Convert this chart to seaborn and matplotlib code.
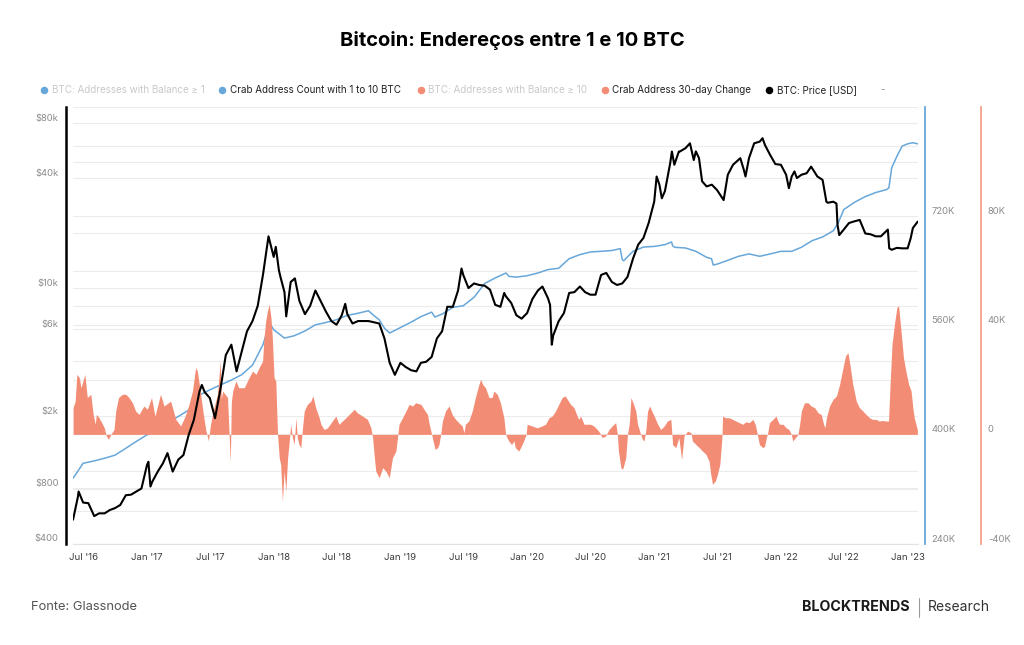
"""Bitcoin crab addresses (1-10 BTC) vs price, Glassnode-style chart."""
import pandas as pd
import seaborn as sns
import matplotlib.pyplot as plt
import matplotlib.dates as mdates
from matplotlib.ticker import NullFormatter, NullLocator, FixedLocator
from matplotlib.lines import Line2D

# ---------------- data ----------------
price_dates = [
    "2016-06-02", "2016-06-16", "2016-06-18", "2016-07-01", "2016-07-16", "2016-08-02",
    "2016-08-16", "2016-09-01", "2016-09-16", "2016-10-01", "2016-10-16", "2016-11-01",
    "2016-11-16", "2016-12-01", "2016-12-16", "2017-01-01", "2017-01-05", "2017-01-11",
    "2017-01-16", "2017-02-01", "2017-02-16", "2017-03-01", "2017-03-16", "2017-04-01",
    "2017-04-16", "2017-05-01", "2017-05-16", "2017-06-01", "2017-06-08", "2017-06-16",
    "2017-07-01", "2017-07-16", "2017-08-01", "2017-08-16", "2017-09-01", "2017-09-16",
    "2017-10-01", "2017-10-16", "2017-11-01", "2017-11-16", "2017-12-01", "2017-12-17",
    "2018-01-01", "2018-01-07", "2018-01-16", "2018-01-21", "2018-02-01", "2018-02-06",
    "2018-02-19", "2018-03-03", "2018-03-16", "2018-04-01", "2018-04-16", "2018-05-01",
    "2018-05-16", "2018-06-01", "2018-06-16", "2018-07-01", "2018-07-16", "2018-07-26",
    "2018-08-01", "2018-08-16", "2018-09-01", "2018-09-16", "2018-10-01", "2018-10-16",
    "2018-11-01", "2018-11-16", "2018-12-01", "2018-12-16", "2019-01-01", "2019-01-16",
    "2019-02-01", "2019-02-16", "2019-03-01", "2019-03-16", "2019-04-01", "2019-04-16",
    "2019-05-01", "2019-05-16", "2019-06-01", "2019-06-16", "2019-06-26", "2019-07-01",
    "2019-07-16", "2019-08-01", "2019-08-16", "2019-09-01", "2019-09-16", "2019-10-01",
    "2019-10-16", "2019-10-27", "2019-11-01", "2019-11-16", "2019-12-01", "2019-12-16",
    "2020-01-01", "2020-01-16", "2020-02-01", "2020-02-14", "2020-03-01", "2020-03-07",
    "2020-03-12", "2020-03-16", "2020-04-01", "2020-04-16", "2020-05-01", "2020-05-16",
    "2020-06-01", "2020-06-16", "2020-07-01", "2020-07-16", "2020-08-01", "2020-08-16",
    "2020-09-01", "2020-09-16", "2020-10-01", "2020-10-16", "2020-11-01", "2020-11-16",
    "2020-12-01", "2020-12-16", "2021-01-01", "2021-01-08", "2021-01-16", "2021-01-23",
    "2021-02-01", "2021-02-16", "2021-02-21", "2021-02-28", "2021-03-13", "2021-03-16",
    "2021-04-01", "2021-04-14", "2021-04-25", "2021-05-01", "2021-05-10", "2021-05-19",
    "2021-06-01", "2021-06-16", "2021-07-01", "2021-07-20", "2021-08-01", "2021-08-16",
    "2021-09-06", "2021-09-16", "2021-09-21", "2021-10-01", "2021-10-16", "2021-11-01",
    "2021-11-09", "2021-11-16", "2021-12-01", "2021-12-16", "2022-01-01", "2022-01-16",
    "2022-01-24", "2022-02-01", "2022-02-09", "2022-02-16", "2022-03-01", "2022-03-16",
    "2022-03-29", "2022-04-16", "2022-05-01", "2022-05-12", "2022-05-16", "2022-06-01",
    "2022-06-10", "2022-06-13", "2022-06-18", "2022-07-01", "2022-07-16", "2022-08-01",
    "2022-08-16", "2022-09-01", "2022-09-16", "2022-10-01", "2022-10-16", "2022-11-05",
    "2022-11-09", "2022-11-16", "2022-12-01", "2022-12-16", "2023-01-01", "2023-01-10",
    "2023-01-16", "2023-01-30",
]
price_usd = [
    540, 720, 770, 670, 665, 565,
    585, 585, 610, 625, 650, 735,
    740, 770, 800, 1075, 1120, 820,
    870, 990, 1100, 1250, 990, 1150,
    1220, 1570, 1900, 2710, 2950, 2700,
    2500, 1940, 2830, 4300, 4900, 3500,
    4500, 5800, 6600, 8000, 11800, 19200,
    14800, 16800, 12500, 11400, 9500, 7000,
    10800, 11300, 8500, 7200, 8000, 9700,
    8500, 7400, 6600, 6300, 7100, 8200,
    7200, 6400, 6600, 6600, 6600, 6500,
    6400, 5300, 3900, 3350, 3900, 3700,
    3550, 3500, 3900, 3950, 4200, 5300,
    5800, 7900, 7900, 9700, 12800, 11800,
    10000, 10600, 10400, 10300, 9800, 8100,
    7900, 9400, 9000, 8300, 7100, 6800,
    7300, 8700, 9700, 10200, 8800, 8100,
    4900, 5500, 6600, 7300, 9400, 9500,
    10200, 9500, 9200, 9200, 11800, 12100,
    10800, 10400, 10600, 11500, 14500, 17300,
    18800, 22700, 29700, 40800, 36800, 31000,
    34000, 48200, 55900, 47300, 55900, 55900,
    58300, 62000, 50200, 56000, 51400, 38400,
    36000, 36800, 34400, 30300, 41700, 47300,
    51400, 44500, 40800, 51400, 62000, 63300,
    66100, 60700, 53500, 47700, 47300, 41700,
    35200, 40800, 43500, 40000, 41700, 42500,
    46200, 40800, 39100, 29700, 29300, 29700,
    29000, 22200, 19500, 20900, 22700, 23200,
    23600, 19900, 19700, 19200, 19200, 20900,
    16500, 16200, 16600, 16500, 16500, 18800,
    21300, 23100,
]

crab_dates = [
    "2016-06-02", "2016-07-01", "2016-08-01", "2016-09-01", "2016-10-01", "2016-11-01",
    "2016-12-01", "2017-01-01", "2017-02-01", "2017-03-01", "2017-04-01", "2017-05-01",
    "2017-06-01", "2017-07-01", "2017-08-01", "2017-09-01", "2017-10-01", "2017-11-01",
    "2017-12-01", "2017-12-16", "2017-12-20", "2018-01-01", "2018-02-01", "2018-03-01",
    "2018-04-01", "2018-05-01", "2018-06-01", "2018-07-01", "2018-08-01", "2018-09-01",
    "2018-10-01", "2018-10-16", "2018-11-01", "2018-11-16", "2018-12-01", "2019-01-01",
    "2019-02-01", "2019-03-01", "2019-04-01", "2019-04-10", "2019-05-01", "2019-06-01",
    "2019-07-01", "2019-08-01", "2019-09-01", "2019-10-01", "2019-11-01", "2019-11-10",
    "2019-12-01", "2020-01-01", "2020-02-01", "2020-03-01", "2020-04-01", "2020-05-01",
    "2020-06-01", "2020-07-01", "2020-08-01", "2020-09-01", "2020-09-25", "2020-10-01",
    "2020-10-05", "2020-11-01", "2020-12-01", "2021-01-01", "2021-02-01", "2021-02-20",
    "2021-02-23", "2021-03-01", "2021-04-01", "2021-05-01", "2021-06-01", "2021-06-15",
    "2021-06-20", "2021-07-01", "2021-08-01", "2021-09-01", "2021-10-01", "2021-11-01",
    "2021-12-01", "2022-01-01", "2022-02-01", "2022-03-01", "2022-04-01", "2022-05-01",
    "2022-06-01", "2022-06-15", "2022-07-01", "2022-08-01", "2022-09-01", "2022-10-01",
    "2022-11-01", "2022-11-08", "2022-11-16", "2022-12-01", "2022-12-16", "2023-01-01",
    "2023-01-16", "2023-01-30",
]
crab_count = [
    335.6, 357.6, 361.0, 365.0, 369.6, 379.6,
    389.6, 399.3, 406.6, 416.6, 426.2, 435.6,
    457.6, 465.3, 472.6, 479.6, 487.6, 501.6,
    531.4, 555.6, 563.2, 553.4, 541.2, 544.6,
    551.6, 560.6, 564.1, 568.1, 574.4, 577.6,
    581.3, 574.4, 568.1, 555.6, 548.6, 556.6,
    564.6, 572.6, 579.3, 572.0, 576.4, 586.2,
    588.6, 600.9, 621.4, 629.3, 636.6, 631.6,
    630.6, 632.6, 636.6, 641.6, 643.6, 657.6,
    663.6, 667.4, 668.4, 669.6, 672.3, 656.2,
    654.6, 668.4, 674.6, 675.6, 678.2, 682.1,
    676.6, 674.3, 673.3, 668.4, 659.6, 657.6,
    648.3, 649.6, 655.2, 661.1, 664.6, 661.1,
    664.6, 668.4, 668.4, 674.3, 684.1, 689.4,
    698.6, 710.0, 729.6, 740.3, 748.6, 754.6,
    758.9, 761.4, 790.6, 807.6, 822.6, 826.0,
    827.6, 826.0,
]  # thousands of addresses

change_dates = [
    "2016-06-02", "2016-06-08", "2016-06-13", "2016-06-20", "2016-06-25", "2016-07-06",
    "2016-07-13", "2016-07-23", "2016-07-30", "2016-08-05", "2016-08-08", "2016-08-16",
    "2016-08-26", "2016-08-31", "2016-09-06", "2016-09-12", "2016-09-19", "2016-09-28",
    "2016-10-03", "2016-10-11", "2016-10-22", "2016-11-01", "2016-11-10", "2016-11-20",
    "2016-11-29", "2016-12-09", "2016-12-23", "2017-01-02", "2017-01-14", "2017-01-24",
    "2017-02-09", "2017-02-19", "2017-03-10", "2017-03-25", "2017-04-08", "2017-04-21",
    "2017-05-02", "2017-05-12", "2017-05-21", "2017-05-26", "2017-06-02", "2017-06-11",
    "2017-06-19", "2017-06-27", "2017-07-03", "2017-07-13", "2017-07-23", "2017-07-31",
    "2017-08-03", "2017-08-07", "2017-08-21", "2017-08-29", "2017-09-01", "2017-09-05",
    "2017-09-14", "2017-09-22", "2017-10-08", "2017-10-22", "2017-11-01", "2017-11-11",
    "2017-11-20", "2017-11-30", "2017-12-04", "2017-12-09", "2017-12-14", "2017-12-19",
    "2017-12-24", "2017-12-28", "2018-01-02", "2018-01-07", "2018-01-12", "2018-01-17",
    "2018-01-21", "2018-01-26", "2018-01-31", "2018-02-05", "2018-02-10", "2018-02-14",
    "2018-02-19", "2018-02-24", "2018-03-01", "2018-03-06", "2018-03-10", "2018-03-15",
    "2018-03-20", "2018-03-25", "2018-03-30", "2018-04-08", "2018-04-18", "2018-04-24",
    "2018-05-02", "2018-05-12", "2018-05-17", "2018-05-26", "2018-06-05", "2018-06-19",
    "2018-06-29", "2018-07-08", "2018-07-18", "2018-07-28", "2018-08-11", "2018-08-21",
    "2018-08-30", "2018-09-14", "2018-09-28", "2018-10-08", "2018-10-13", "2018-10-17",
    "2018-10-22", "2018-11-01", "2018-11-11", "2018-11-20", "2018-11-30", "2018-12-09",
    "2018-12-19", "2018-12-28", "2019-01-07", "2019-01-17", "2019-01-26", "2019-02-05",
    "2019-02-14", "2019-03-01", "2019-03-10", "2019-03-20", "2019-03-25", "2019-04-01",
    "2019-04-05", "2019-04-11", "2019-04-18", "2019-04-22", "2019-04-27", "2019-05-02",
    "2019-05-11", "2019-05-21", "2019-05-30", "2019-06-09", "2019-06-18", "2019-06-28",
    "2019-07-03", "2019-07-07", "2019-07-17", "2019-07-27", "2019-08-05", "2019-08-15",
    "2019-08-20", "2019-08-26", "2019-09-03", "2019-09-13", "2019-09-22", "2019-09-27",
    "2019-10-07", "2019-10-16", "2019-10-26", "2019-10-31", "2019-11-04", "2019-11-09",
    "2019-11-17", "2019-11-24", "2019-11-28", "2019-12-08", "2019-12-13", "2019-12-22",
    "2019-12-29", "2020-01-01", "2020-01-15", "2020-01-30", "2020-02-13", "2020-02-23",
    "2020-03-04", "2020-03-13", "2020-03-23", "2020-04-01", "2020-04-11", "2020-04-19",
    "2020-04-26", "2020-05-05", "2020-05-15", "2020-05-24", "2020-05-29", "2020-06-03",
    "2020-06-13", "2020-06-22", "2020-07-02", "2020-07-11", "2020-07-21", "2020-07-28",
    "2020-08-04", "2020-08-14", "2020-08-24", "2020-09-02", "2020-09-12", "2020-09-17",
    "2020-09-20", "2020-09-27", "2020-10-02", "2020-10-06", "2020-10-11", "2020-10-16",
    "2020-10-21", "2020-10-26", "2020-11-01", "2020-11-09", "2020-11-14", "2020-11-23",
    "2020-11-28", "2020-12-03", "2020-12-08", "2020-12-13", "2020-12-19", "2020-12-25",
    "2021-01-01", "2021-01-11", "2021-01-20", "2021-01-30", "2021-02-08", "2021-02-18",
    "2021-02-23", "2021-03-04", "2021-03-13", "2021-03-21", "2021-03-28", "2021-04-07",
    "2021-04-17", "2021-04-21", "2021-05-01", "2021-05-11", "2021-05-20", "2021-05-30",
    "2021-06-08", "2021-06-13", "2021-06-18", "2021-06-26", "2021-07-02", "2021-07-09",
    "2021-07-15", "2021-07-17", "2021-07-26", "2021-08-05", "2021-08-15", "2021-08-24",
    "2021-09-03", "2021-09-13", "2021-09-22", "2021-10-02", "2021-10-12", "2021-10-19",
    "2021-10-26", "2021-10-31", "2021-11-10", "2021-11-15", "2021-11-20", "2021-11-24",
    "2021-11-29", "2021-12-09", "2021-12-18", "2021-12-23", "2021-12-28", "2022-01-07",
    "2022-01-16", "2022-01-24", "2022-01-31", "2022-02-04", "2022-02-12", "2022-02-19",
    "2022-02-24", "2022-03-01", "2022-03-10", "2022-03-20", "2022-03-29", "2022-04-08",
    "2022-04-18", "2022-04-27", "2022-05-04", "2022-05-08", "2022-05-12", "2022-05-21",
    "2022-05-31", "2022-06-10", "2022-06-19", "2022-06-29", "2022-07-06", "2022-07-13",
    "2022-07-20", "2022-07-27", "2022-08-06", "2022-08-15", "2022-08-25", "2022-09-03",
    "2022-09-13", "2022-09-22", "2022-10-02", "2022-10-11", "2022-10-21", "2022-10-30",
    "2022-11-07", "2022-11-11", "2022-11-17", "2022-11-24", "2022-12-01", "2022-12-06",
    "2022-12-13", "2022-12-20", "2022-12-27", "2023-01-04", "2023-01-11", "2023-01-16",
    "2023-01-20", "2023-01-25", "2023-01-29",
]
change_30d = [
    9.8, 12.0, 22.0, 20.8, 17.1, 22.0,
    13.5, 14.7, 7.3, 3.7, 7.3, 6.1,
    3.7, 2.4, -0.6, -1.8, 0.0, 1.8,
    8.6, 13.5, 14.7, 14.7, 13.5, 11.6,
    8.6, 7.3, 10.4, 9.2, 13.5, 6.7,
    14.7, 10.4, 12.2, 5.5, 3.1, 6.7,
    11.0, 15.9, 24.5, 23.2, 17.1, 8.6,
    1.8, -2.4, 3.7, 9.8, 14.7, 26.9,
    13.0, 15.9, 13.5, -10.4, 12.0, 15.9,
    19.6, 17.1, 17.1, 20.8, 23.2, 22.0,
    24.5, 26.9, 35.5, 41.6, 45.3, 47.7,
    42.8, 35.5, 20.8, 19.6, 0.0, -8.6,
    -11.0, -24.5, -13.5, -20.8, -8.6, -3.7,
    3.7, -1.2, -3.7, 6.1, -1.2, -3.7,
    -4.9, 2.4, 8.6, 11.0, 12.2, 14.1,
    9.8, 6.1, 3.7, 1.8, 2.4, 4.9,
    6.7, 3.7, 4.9, 6.1, 7.9, 9.2,
    7.9, 6.7, 5.5, 2.4, -1.2, -7.3,
    -13.5, -15.9, -12.2, -13.5, -15.9, -8.6,
    -6.1, 3.7, 6.1, 8.6, 11.0, 10.4,
    11.6, 11.0, 9.2, 7.3, 3.7, 0.0,
    -2.4, -5.5, -4.9, -3.7, 0.0, 4.9,
    8.6, 10.4, 7.3, 5.5, 4.3, 3.1,
    0.6, 3.7, 4.9, 8.6, 13.5, 18.3,
    20.2, 18.3, 17.1, 13.5, 13.5, 15.9,
    14.7, 11.6, 6.1, 0.0, -1.2, -2.4,
    -3.7, -2.4, -4.9, -6.1, -4.9, -2.4,
    0.0, 3.7, 3.1, 2.4, 3.1, 3.7,
    6.1, 6.7, 8.6, 11.0, 13.5, 14.1,
    12.8, 11.0, 9.8, 6.7, 5.5, 6.7,
    3.7, 3.7, 3.7, 3.1, 1.8, 0.6,
    -1.2, -0.6, 1.8, 3.1, 4.3, 0.0,
    -6.1, -12.2, -12.8, -11.0, -8.6, 0.0,
    3.7, 13.5, 11.6, 8.6, 3.7, 0.0,
    -1.8, -2.4, 1.8, 8.6, 10.4, 8.6,
    6.7, 3.7, 1.8, 3.1, 4.9, 5.5,
    -3.7, -4.9, -1.2, -9.2, -0.6, 1.2,
    0.6, -2.4, -3.7, -4.9, -6.1, -7.3,
    -9.8, -14.7, -18.3, -17.1, -14.7, -11.0,
    -1.2, 6.7, 6.1, 6.1, 5.5, 4.9,
    4.3, 3.7, 4.6, 4.3, 5.5, 3.7,
    -0.6, -3.7, -4.9, -4.3, -1.2, 0.6,
    4.3, 5.5, 6.7, 4.9, 3.7, 3.7,
    2.4, 1.8, 0.0, -2.4, -1.2, 0.0,
    3.7, 8.6, 11.6, 11.6, 10.4, 9.8,
    7.9, 7.3, 3.7, 2.4, 6.1, 10.4,
    12.8, 14.1, 18.3, 24.5, 28.7, 30.0,
    24.5, 18.3, 12.2, 9.8, 8.6, 7.3,
    6.1, 5.5, 5.5, 4.9, 5.1, 4.9,
    4.9, 17.1, 33.0, 40.4, 46.5, 47.1,
    37.9, 28.1, 23.2, 18.3, 15.9, 9.8,
    6.1, 3.7, 1.8,
]  # thousands of addresses

price_ticks = [400, 800, 2000, 6000, 10000, 40000, 80000]
price_tick_labels = ["$400", "$800", "$2k", "$6k", "$10k", "$40k", "$80k"]
price_minor = [600, 1000, 4000, 8000, 20000, 60000]
crab_ticks = [240, 400, 560, 720]
crab_tick_labels = ["240K", "400K", "560K", "720K"]
change_ticks = [-40, 0, 40, 80]
change_tick_labels = ["-40K", "0", "40K", "80K"]

legend_labels = [
    "BTC: Addresses with Balance ≥ 1",
    "Crab Address Count with 1 to 10 BTC",
    "BTC: Addresses with Balance ≥ 10",
    "Crab Address 30-day Change",
    "BTC: Price [USD]",
]

# ---------------- styling ----------------
BLUE = "#67A7DA"
SALMON = "#F38C74"
GRID = "#ececec"
TICK_GREY = "#8c8c8c"

sns.set_style("white")
plt.rcParams["font.family"] = ["Inter", "DejaVu Sans"]

df_price = pd.DataFrame({"date": pd.to_datetime(price_dates), "price": price_usd})
df_crab = pd.DataFrame({"date": pd.to_datetime(crab_dates), "count": [v * 1000 for v in crab_count]})
df_change = pd.DataFrame({"date": pd.to_datetime(change_dates), "change": [v * 1000 for v in change_30d]})

W, H = 1024, 645
fig = plt.figure(figsize=(W / 100, H / 100), dpi=100)
left, right, bottom, top = 72.7, 917.7, 543.5, 107
ax = fig.add_axes([left / W, 1 - bottom / H, (right - left) / W, (bottom - top) / H])
ax_crab = ax.twinx()
ax_change = ax.twinx()
ax_line = ax.twinx()

xlim = (pd.Timestamp("2016-06-01"), pd.Timestamp("2023-01-30"))
price_lim = (400, 97950)

# price axis: grid + left spine only
ax.set_yscale("log")
ax.set_ylim(*price_lim)
ax.set_xlim(*xlim)
ax.yaxis.set_major_locator(FixedLocator(price_ticks))
ax.set_yticklabels(price_tick_labels)
ax.yaxis.set_minor_locator(FixedLocator(price_minor))
ax.yaxis.set_minor_formatter(NullFormatter())
ax.grid(True, which="both", axis="y", color=GRID, linewidth=0.8)
ax.tick_params(axis="y", which="both", length=0, pad=5, labelsize=6.8, labelcolor=TICK_GREY)
ax.xaxis.set_major_locator(mdates.MonthLocator(bymonth=(1, 7)))
ax.xaxis.set_major_formatter(mdates.DateFormatter("%b '%y"))
ax.tick_params(axis="x", length=4, color="#d4d4d4", width=0.8, pad=3,
               labelsize=6.9, labelcolor="#3a3a3a")
for s in ("top", "right"):
    ax.spines[s].set_visible(False)
ax.spines["left"].set_position(("outward", 5))
ax.spines["left"].set_color("black")
ax.spines["left"].set_linewidth(1.8)
ax.spines["bottom"].set_color("#e2e2e2")
ax.spines["bottom"].set_linewidth(0.8)

# crab address count (blue, first right axis)
sns.lineplot(data=df_crab, x="date", y="count", ax=ax_crab, color=BLUE, linewidth=1.1)
ax_crab.set_ylim(240e3, 880e3)
ax_crab.yaxis.set_major_locator(FixedLocator([v * 1000 for v in crab_ticks]))
ax_crab.set_yticklabels(crab_tick_labels)
ax_crab.yaxis.set_minor_locator(FixedLocator([320e3, 480e3, 640e3, 800e3, 880e3]))
ax_crab.grid(True, which="both", axis="y", color=GRID, linewidth=0.8, zorder=0)
ax_crab.set_axisbelow(True)
ax_crab.tick_params(axis="y", which="both", length=0, pad=5, labelsize=6.8, labelcolor=TICK_GREY)

# 30-day change (salmon area, second right axis)
ax_change.fill_between(df_change["date"], 0, df_change["change"], color=SALMON, linewidth=0)
ax_change.set_ylim(-40e3, 120e3)
ax_change.yaxis.set_major_locator(FixedLocator([v * 1000 for v in change_ticks]))
ax_change.set_yticklabels(change_tick_labels)
ax_change.tick_params(axis="y", length=0, pad=5, labelsize=6.8, labelcolor=TICK_GREY)

# price line on top
sns.lineplot(data=df_price, x="date", y="price", ax=ax_line, color="black", linewidth=1.5)
ax_line.set_yscale("log")
ax_line.set_ylim(*price_lim)
ax_line.yaxis.set_major_locator(NullLocator())
ax_line.yaxis.set_minor_locator(NullLocator())

for a in (ax_crab, ax_change, ax_line):
    a.set_xlim(*xlim)
    a.set_xlabel("")
    a.set_ylabel("")
    for s in ("top", "left", "bottom", "right"):
        a.spines[s].set_visible(False)
ax.set_xlabel("")
ax.set_ylabel("")

ax_crab.spines["right"].set_visible(True)
ax_crab.spines["right"].set_position(("outward", 5))
ax_crab.spines["right"].set_color(BLUE)
ax_crab.spines["right"].set_linewidth(1.3)
ax_change.spines["right"].set_visible(True)
ax_change.spines["right"].set_position(("outward", 45.6))
ax_change.spines["right"].set_color("#F4A08B")
ax_change.spines["right"].set_linewidth(1.3)

# tick labels sit just above their gridline
for a in (ax, ax_crab, ax_change):
    for lbl in a.get_yticklabels():
        lbl.set_verticalalignment("bottom")

# ---------------- title, legend, footer ----------------
fig.text(0.5, 1 - 40 / H, "Bitcoin: Endereços entre 1 e 10 BTC", ha="center", va="center",
         fontsize=14.5, fontweight="bold", color="black")

leg_y = 1 - 90 / H
dot_x = [44, 222.3, 420.7, 605, 769.3]
dot_colors = [BLUE, BLUE, SALMON, SALMON, "black"]
text_colors = ["#c9c9c9", "#222222", "#c9c9c9", "#222222", "#222222"]
for xd, lab, dc, tc in zip(dot_x, legend_labels, dot_colors, text_colors):
    fig.add_artist(Line2D([xd / W], [leg_y], marker="o", markersize=4.4, color=dc,
                          linestyle="none", transform=fig.transFigure))
    fig.text((xd + 7.5) / W, leg_y, lab, ha="left", va="center", fontsize=7.1, color=tc)
fig.text(883 / W, leg_y, "-", ha="center", va="center", fontsize=7, color="#999999")

foot_y = 1 - 607 / H
fig.text(31 / W, foot_y, "Fonte: Glassnode", ha="left", va="center", fontsize=9.3, color="#555555")
fig.text(910 / W, foot_y, "BLOCKTRENDS", ha="right", va="center", fontsize=10.3,
         fontweight="bold", color="#1a1a1a")
fig.add_artist(Line2D([919 / W, 919 / W], [1 - 598 / H, 1 - 617 / H], color="#9a9a9a",
                      linewidth=0.8, transform=fig.transFigure))
fig.text(990 / W, foot_y, "Research", ha="right", va="center", fontsize=10, color="#333333")

fig.savefig("out.png", dpi=100, facecolor="white")
plt.close(fig)
